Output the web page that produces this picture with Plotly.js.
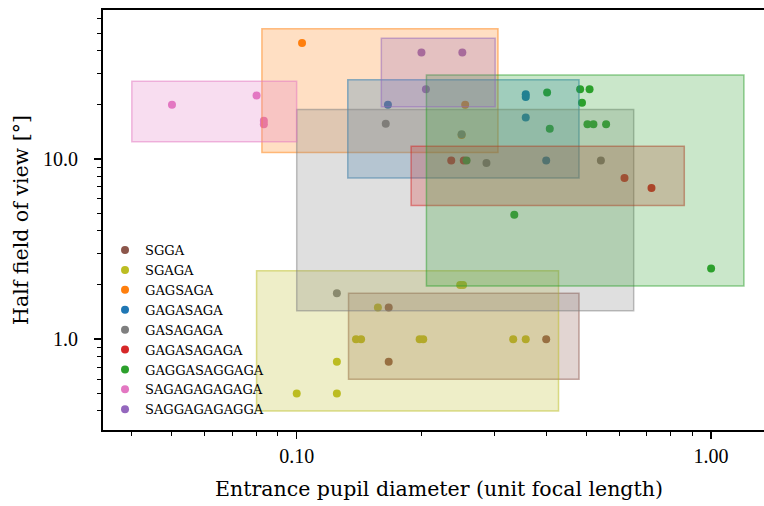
<!DOCTYPE html>
<html>
<head>
<meta charset="utf-8">
<script src="https://cdn.plot.ly/plotly-3.0.1.min.js"></script>
<style>html,body{margin:0;padding:0;background:#fff;overflow:hidden;width:764px;height:506px;}</style>
</head>
<body>
<div id="chart" style="width:776px;height:506px;"></div>
<script>
// ---- data ----
const seriesNames = ["SGGA","SGAGA","GAGSAGA","GAGASAGA","GASAGAGA","GAGASAGAGA","GAGGASAGGAGA","SAGAGAGAGAGA","SAGGAGAGAGGA"];
const seriesColors = ["#8c564b","#bcbd22","#ff7f0e","#1f77b4","#7f7f7f","#d62728","#2ca02c","#e377c2","#9467bd"];

const sggaX = [0.1667, 0.1667, 0.4];
const sggaY = [1.5, 0.75, 1.0];
const sgagaX = [0.157, 0.139, 0.143, 0.198, 0.202, 0.125, 0.1, 0.125, 0.248, 0.252, 0.333, 0.357];
const sgagaY = [1.5, 1.0, 1.0, 1.0, 1.0, 0.75, 0.5, 0.5, 2.0, 2.0, 1.0, 1.0];
const gagsagaX = [0.103, 0.255, 0.25];
const gagsagaY = [44, 20, 13.6];
const gagasagaX = [0.166, 0.357, 0.357, 0.357, 0.4];
const gagasagaY = [20, 22.9, 22.1, 17, 9.8];
const gasagagaX = [0.164, 0.25, 0.287, 0.542, 0.125];
const gasagagaY = [15.7, 13.7, 9.5, 9.8, 1.8];
const gagasagagaX = [0.236, 0.253, 0.618, 0.718];
const gagasagagaY = [9.8, 9.8, 7.84, 6.9];
const gaggasaggagaX = [0.402, 0.483, 0.509, 0.488, 0.408, 0.503, 0.52, 0.558, 0.257, 0.335, 1.0];
const gaggasaggagaY = [23.4, 24.4, 24.4, 20.5, 14.7, 15.6, 15.6, 15.6, 9.8, 4.9, 2.47];
const sagagagagagaX = [0.05, 0.08, 0.0833, 0.0833];
const sagagagagagaY = [20, 22.5, 16.3, 15.6];
const saggagagaggaX = [0.2, 0.251, 0.205];
const saggagagaggaY = [39, 39, 24.4];

const seriesX = [sggaX, sgagaX, gagsagaX, gagasagaX, gasagagaX, gagasagagaX, gaggasaggagaX, sagagagagagaX, saggagagaggaX];
const seriesY = [sggaY, sgagaY, gagsagaY, gagasagaY, gasagagaY, gagasagagaY, gaggasaggagaY, sagagagagagaY, saggagagaggaY];

// box padding factors around each family's extent
const boxLow = 0.8, boxHigh = 1.2;

const xTickVals = [0.1, 1];
const xTickText = ["0.10", "1.00"];
const yTickVals = [1, 10];
const yTickText = ["1.0", "10.0"];

// ---- build ----
function rgba(hex, a){
  const n = parseInt(hex.slice(1),16);
  return `rgba(${(n>>16)&255},${(n>>8)&255},${n&255},${a})`;
}

const traces = seriesNames.map((name,i)=>({
  type:'scatter', mode:'markers', name:name,
  x: seriesX[i], y: seriesY[i],
  marker:{color: seriesColors[i], size:8},
  hoverinfo:'x+y+name'
}));

const shapes = seriesNames.map((name,i)=>({
  type:'rect', xref:'x', yref:'y', layer:'above',
  x0: Math.min(...seriesX[i])*boxLow, x1: Math.max(...seriesX[i])*boxHigh,
  y0: Math.min(...seriesY[i])*boxLow, y1: Math.max(...seriesY[i])*boxHigh,
  fillcolor: rgba(seriesColors[i],0.25),
  line:{color: rgba(seriesColors[i],0.5), width:1.5}
}));

const tickFont = {family:'"Liberation Serif", serif', size:20, color:'#000'};
const titleFont = {family:'"DejaVu Serif", serif', size:20.5, color:'#000'};

const layout = {
  width:776, height:506,
  margin:{l:103, r:1, t:10, b:76},
  paper_bgcolor:'#fff', plot_bgcolor:'#fff',
  showlegend:true,
  legend:{x:0.003, y:0.464, xanchor:'left', yanchor:'top',
          font:{family:'"DejaVu Serif", serif', size:13, color:'#000'},
          bgcolor:'rgba(0,0,0,0)', tracegroupgap:0, itemwidth:30},
  xaxis:{type:'log', range:[-1.4675, 0.1542], showgrid:false, zeroline:false,
         showline:true, linecolor:'#000', linewidth:2, mirror:true,
         ticks:'outside', ticklen:7, tickwidth:1.5, tickcolor:'#000',
         tickmode:'array', tickvals:xTickVals, ticktext:xTickText,
         tickfont:tickFont, ticklabelstandoff:0,
         minor:{ticks:'outside', ticklen:4, tickwidth:1, tickcolor:'#000', tickmode:'linear', dtick:'D1', showgrid:false},
         title:{text:'Entrance pupil diameter (unit focal length)', font:titleFont, standoff:16},
         automargin:false},
  yaxis:{type:'log', range:[-0.5039, 1.8267], showgrid:false, zeroline:false,
         showline:true, linecolor:'#000', linewidth:2, mirror:false,
         ticks:'outside', ticklen:7, tickwidth:1.5, tickcolor:'#000',
         tickmode:'array', tickvals:yTickVals, ticktext:yTickText,
         tickfont:tickFont, ticklabelstandoff:12,
         minor:{ticks:'outside', ticklen:4, tickwidth:1, tickcolor:'#000', tickmode:'linear', dtick:'D1', showgrid:false},
         title:{text:'Half field of view [°]', font:titleFont, standoff:9},
         automargin:false},
  shapes: shapes
};

Plotly.newPlot('chart', traces, layout, {displayModeBar:false, staticPlot:true});
</script>
</body>
</html>
